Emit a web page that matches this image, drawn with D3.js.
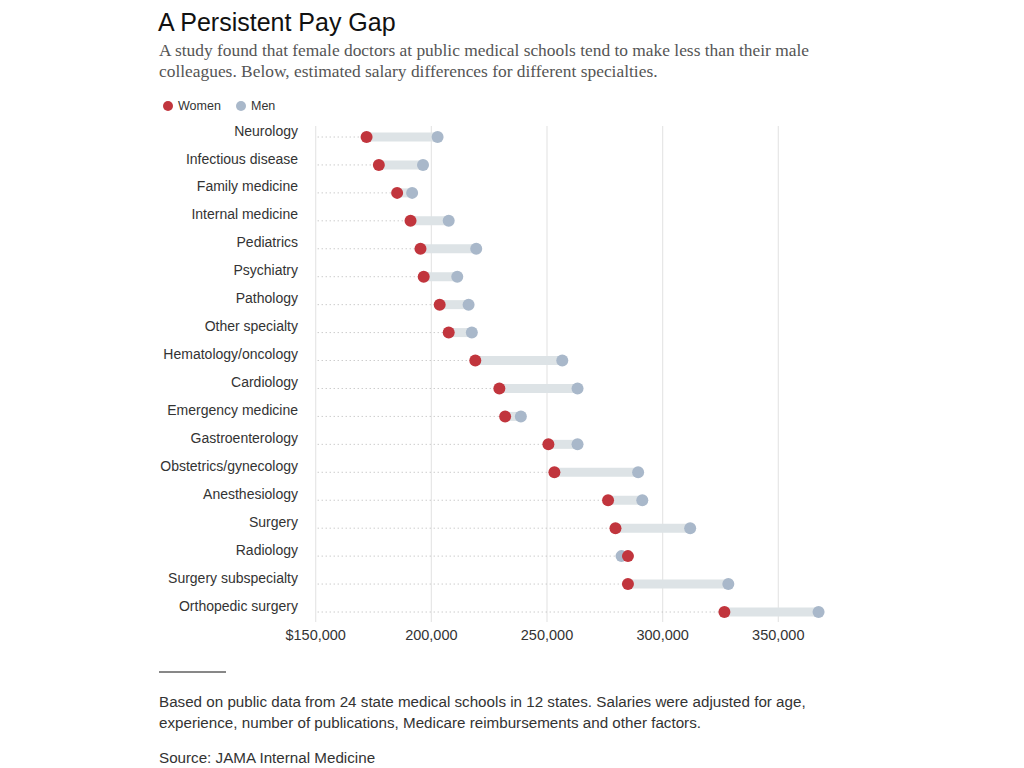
<!DOCTYPE html>
<html>
<head>
<meta charset="utf-8">
<script src="https://cdn.jsdelivr.net/npm/d3@7"></script>
<style>
  body { margin: 0; background: #fff; }
</style>
</head>
<body>
<div id="chart"></div>
<script>
// specialties, top to bottom
const specialties = [
  "Neurology", "Infectious disease", "Family medicine", "Internal medicine",
  "Pediatrics", "Psychiatry", "Pathology", "Other specialty",
  "Hematology/oncology", "Cardiology", "Emergency medicine", "Gastroenterology",
  "Obstetrics/gynecology", "Anesthesiology", "Surgery", "Radiology",
  "Surgery subspecialty", "Orthopedic surgery"
];
// estimated salaries
const women = [172000, 177300, 185200, 191000, 195300, 196700, 203600, 207500,
  219000, 229400, 231900, 250600, 253200, 276400, 279600, 285000, 285000, 326700];
const men = [202700, 196400, 191700, 207500, 219400, 211200, 216100, 217500,
  256600, 263200, 238700, 263200, 289400, 291200, 311900, 282200, 328400, 367400];
const tickValues = [150000, 200000, 250000, 300000, 350000];

const rows = specialties.map((s, i) => ({ name: s, w: women[i], m: men[i] }));

const width = 1024, height = 768;
const svg = d3.select("#chart").append("svg")
  .attr("width", width)
  .attr("height", height)
  .style("font-family", "'Liberation Sans', Arial, sans-serif");

// title + intro
svg.append("text")
  .attr("x", 158).attr("y", 31)
  .style("font-size", "25px")
  .style("fill", "#111")
  .text("A Persistent Pay Gap");

const intro = [
  "A study found that female doctors at public medical schools tend to make less than their male",
  "colleagues. Below, estimated salary differences for different specialties."
];
svg.append("g").selectAll("text").data(intro).join("text")
  .attr("x", 159)
  .attr("y", (d, i) => 56 + i * 21)
  .style("font-family", "'Liberation Serif', Georgia, serif")
  .style("font-size", "17.4px")
  .style("fill", "#555")
  .text(d => d);

// legend
const legend = svg.append("g").attr("transform", "translate(168,105)");
[["Women", "#c1353d", 0], ["Men", "#a9b8ca", 73]].forEach(([label, color, dx]) => {
  legend.append("circle").attr("cx", dx).attr("cy", 1).attr("r", 5).attr("fill", color);
  legend.append("text").attr("x", dx + 10).attr("y", 5)
    .style("font-size", "12.5px").style("fill", "#333").text(label);
});

// scales
const x = d3.scaleLinear().domain([150000, 350000]).range([315.7, 778.3]);
const y = d3.scalePoint().domain(specialties).range([137, 612]);

const plot = svg.append("g");

// vertical gridlines
plot.selectAll("line.grid").data(tickValues).join("line")
  .attr("class", "grid")
  .attr("x1", d => x(d)).attr("x2", d => x(d))
  .attr("y1", 126).attr("y2", 622)
  .attr("stroke", "#e6e6e6")
  .attr("stroke-width", 1.2);

// axis labels
plot.selectAll("text.tick").data(tickValues).join("text")
  .attr("class", "tick")
  .attr("x", d => x(d))
  .attr("y", 640)
  .attr("text-anchor", "middle")
  .style("font-size", "14.5px")
  .style("fill", "#333")
  .text((d, i) => (i === 0 ? "$" : "") + d3.format(",")(d));

const row = plot.selectAll("g.row").data(rows).join("g")
  .attr("class", "row")
  .attr("transform", d => `translate(0,${y(d.name)})`);

// dotted leader to the lower value
row.append("line")
  .attr("x1", x(150000) + 2)
  .attr("x2", d => x(Math.min(d.w, d.m)))
  .attr("stroke", "#b5b5b5")
  .attr("stroke-width", 1)
  .attr("stroke-dasharray", "1,3");

// gap bar
row.append("line")
  .attr("x1", d => x(d.w))
  .attr("x2", d => x(d.m))
  .attr("stroke", "#dde3e6")
  .attr("stroke-width", 9);

row.append("circle")
  .attr("cx", d => x(d.m))
  .attr("r", 6)
  .attr("fill", "#a9b8ca");

row.append("circle")
  .attr("cx", d => x(d.w))
  .attr("r", 6)
  .attr("fill", "#c1353d");

// category labels
row.append("text")
  .attr("x", 298)
  .attr("y", 0)
  .attr("dy", "-0.1em")
  .attr("text-anchor", "end")
  .style("font-size", "14px")
  .style("fill", "#333")
  .text(d => d.name);

// footer
svg.append("line")
  .attr("x1", 159).attr("x2", 226)
  .attr("y1", 672).attr("y2", 672)
  .attr("stroke", "#111").attr("stroke-width", 1);

const notes = [
  "Based on public data from 24 state medical schools in 12 states. Salaries were adjusted for age,",
  "experience, number of publications, Medicare reimbursements and other factors."
];
svg.append("g").selectAll("text").data(notes).join("text")
  .attr("x", 159)
  .attr("y", (d, i) => 707 + i * 21)
  .style("font-size", "15.2px")
  .style("fill", "#333")
  .text(d => d);

svg.append("text")
  .attr("x", 159).attr("y", 763)
  .style("font-size", "15.2px")
  .style("fill", "#333")
  .text("Source: JAMA Internal Medicine");
</script>
</body>
</html>
